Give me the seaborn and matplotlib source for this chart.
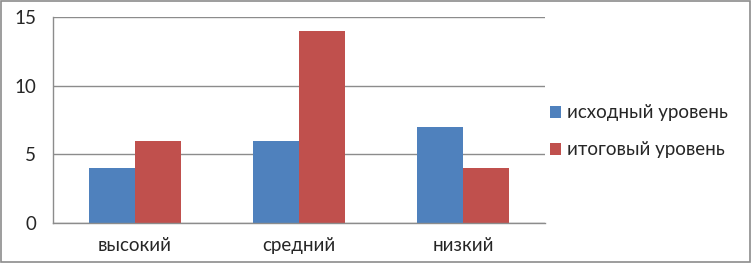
import matplotlib
matplotlib.use('Agg')
import matplotlib.pyplot as plt
import seaborn as sns
import pandas as pd
from matplotlib.patches import Rectangle

# --- data ---
categories = ["высокий", "средний", "низкий"]
series_names = ["исходный уровень", "итоговый уровень"]
initial_level = [4, 6, 7]
final_level = [6, 14, 4]
y_ticks = [0, 5, 10, 15]

df = pd.DataFrame({
    "category": categories * 2,
    "series": [series_names[0]] * 3 + [series_names[1]] * 3,
    "value": initial_level + final_level,
})

sns.set_style("white")
plt.rcParams['font.family'] = ['Lato', 'DejaVu Sans']

fig = plt.figure(figsize=(7.52, 2.63), dpi=100)
ax = fig.add_axes([53 / 752, 1 - 223 / 263, (545 - 53) / 752, (223 - 17) / 263])

sns.barplot(data=df, x="category", y="value", hue="series",
            palette=["#4F81BD", "#C0504D"], width=0.567, gap=0,
            saturation=1, linewidth=0, ax=ax, legend=True)

ax.set_xlim(-0.5, 2.5)
ax.set_ylim(0, 15)
ax.set_yticks(y_ticks)
ax.yaxis.grid(True, color="#8c8c8c", linewidth=1)
ax.set_axisbelow(True)
ax.set_xlabel("")
ax.set_ylabel("")

for side in ["top", "right"]:
    ax.spines[side].set_visible(False)
for side in ["left", "bottom"]:
    ax.spines[side].set_color("#8c8c8c")
    ax.spines[side].set_linewidth(1)

# tick marks between categories, like Excel
ax.set_xticks([-0.5, 0.5, 1.5, 2.5], minor=True)
ax.tick_params(axis="x", which="minor", length=5, color="#8c8c8c", width=1, direction="out")
ax.tick_params(axis="x", which="major", length=0, labelsize=13.5, pad=10)
ax.tick_params(axis="y", length=4, color="#8c8c8c", width=1, labelsize=13.5, pad=8)

leg = ax.legend(loc="center left", bbox_to_anchor=(0.975, 0.445), frameon=False,
                fontsize=13.5, handlelength=0.6, handleheight=0.6, handletextpad=0.35,
                labelspacing=1.05)

# outer border
fig.patches.append(Rectangle((0.001, 0.002), 0.997, 0.995, transform=fig.transFigure,
                             fill=False, edgecolor="#8c8c8c", linewidth=1.2))

fig.savefig("out.png", dpi=100)
